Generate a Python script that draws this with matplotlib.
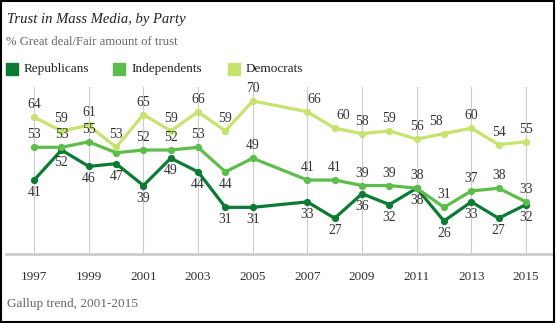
import matplotlib
matplotlib.use("Agg")
import matplotlib.pyplot as plt
from matplotlib.patches import Rectangle

# Gallup: trust in mass media by party (no 2006 survey)
years = [1997, 1998, 1999, 2000, 2001, 2002, 2003, 2004, 2005,
         2007, 2008, 2009, 2010, 2011, 2012, 2013, 2014, 2015]
republicans = [41, 52, 46, 47, 39, 49, 44, 31, 31, 33, 27, 36, 32, 38, 26, 33, 27, 32]
independents = [53, 53, 55, 51, 52, 52, 53, 44, 49, 41, 41, 39, 39, 38, 31, 37, 38, 33]
democrats = [64, 59, 61, 53, 65, 59, 66, 59, 70, 66, 60, 58, 59, 56, 58, 60, 54, 55]
tick_years = [1997, 1999, 2001, 2003, 2005, 2007, 2009, 2011, 2013, 2015]

c_rep = "#0b7b34"
c_ind = "#5dbd4a"
c_dem = "#c6e46d"

serif = ["Liberation Serif", "DejaVu Serif"]
plt.rcParams["font.family"] = serif

fig = plt.figure(figsize=(5.56, 3.23), dpi=100)
ax = fig.add_axes([0.0108, 0.2136, 0.9838, 0.5171])

ax.plot(years, republicans, color=c_rep, lw=2.3, marker="o", ms=4.2, zorder=3)
ax.plot(years, independents, color=c_ind, lw=2.3, marker="o", ms=4.2, zorder=4)
ax.plot(years, democrats, color=c_dem, lw=2.3, marker="o", ms=4.2, zorder=5)

lab = dict(fontsize=9.8, color="#333333", ha="center", va="center",
           textcoords="offset points", zorder=6)

# democrats: labels above, a few nudged sideways
dem_dx = {2007: 5, 2008: 6, 2012: -6}
for yr, v in zip(years, democrats):
    ax.annotate(str(v), (yr, v), xytext=(dem_dx.get(yr, 0), 9), **lab)

for yr, v in zip(years, independents):
    if yr == 2000:
        continue
    dy = -9 if yr == 2004 else 9
    ax.annotate(str(v), (yr, v), xytext=(0, dy), **lab)

for yr, v in zip(years, republicans):
    ax.annotate(str(v), (yr, v), xytext=(0, -9), **lab)

ax.set_xlim(1995.97, 2015.99)
ax.set_ylim(13.9, 75.1)
ax.set_xticks(tick_years)
ax.set_xticklabels([str(t) for t in tick_years], fontsize=9.5, color="#333333")
ax.set_yticks([])
ax.tick_params(axis="x", length=0, pad=12)
ax.xaxis.grid(True, color="#cccccc", lw=0.8)
ax.set_axisbelow(True)
for side in ["top", "right", "left"]:
    ax.spines[side].set_visible(False)
ax.spines["bottom"].set_color("#cccccc")
ax.spines["bottom"].set_linewidth(2)

fig.text(7 / 556, 1 - 20 / 323, "Trust in Mass Media, by Party", fontsize=10.5,
         style="italic", color="#222222", va="center")
fig.text(6 / 556, 1 - 42 / 323, "% Great deal/Fair amount of trust", fontsize=9.2,
         color="#666666", va="center")

# legend squares
for x0, name, col in [(6, "Republicans", c_rep), (113, "Independents", c_ind),
                      (228, "Democrats", c_dem)]:
    fig.patches.append(Rectangle((x0 / 556, 1 - 75 / 323), 12 / 556, 12 / 323,
                                 transform=fig.transFigure, color=col))
    fig.text((x0 + 18) / 556, 1 - 69 / 323, name, fontsize=9.5, color="#222222",
             va="center")

fig.text(7 / 556, 1 - 304 / 323, "Gallup trend, 2001-2015", fontsize=9.5,
         color="#666666", va="center")

fig.patches.append(Rectangle((0.001, 0.002), 0.996, 0.995, transform=fig.transFigure,
                             fill=False, edgecolor="black", lw=1.5))

fig.savefig("out.png", dpi=100)
